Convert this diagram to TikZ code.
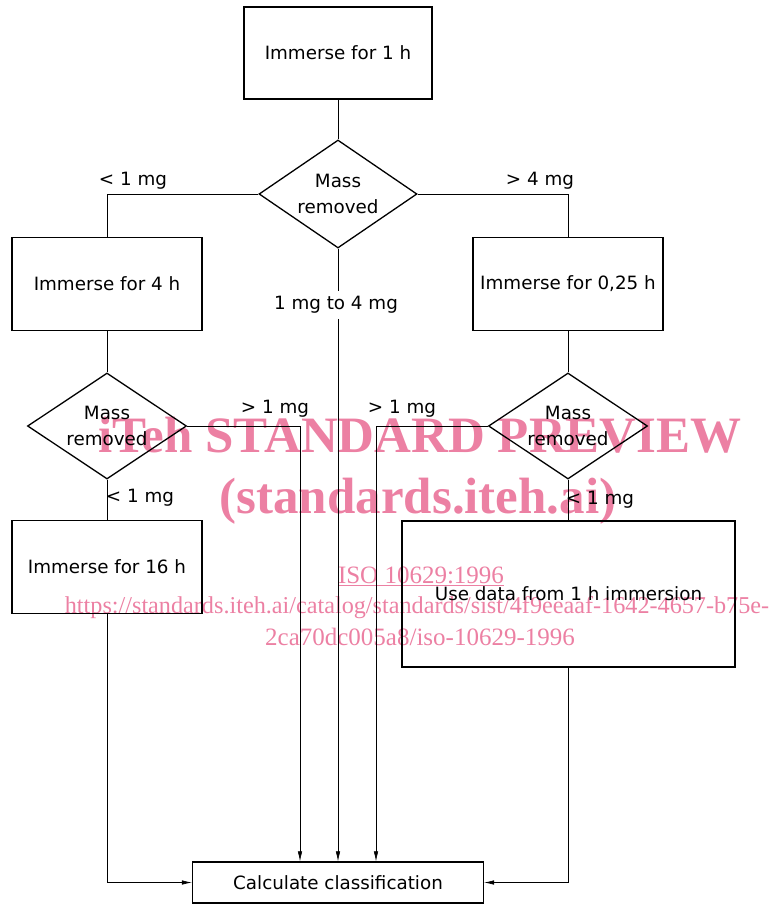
\documentclass[tikz,border=0pt]{standalone}
\usepackage{fontspec}
\setmainfont{DejaVu Sans}
\newfontfamily\wmfont{Liberation Serif}
\usetikzlibrary{arrows.meta,positioning,shapes.geometric}
\definecolor{wmpink}{RGB}{236,128,163}

\begin{document}
\begin{tikzpicture}[
  x=1pt, y=-1pt,
  font=\fontsize{18.3}{26}\selectfont,
  stepbox/.style={draw, line width=1.3pt, align=center, minimum width=190pt, minimum height=93pt, inner sep=2pt},
  decision/.style={draw, diamond, line width=1.3pt, align=center, aspect=1.45, minimum width=158pt, minimum height=108pt, inner sep=0pt},
  lbl/.style={inner sep=1pt},
  link/.style={line width=0.6pt},
  arrow/.style={link, -{Latex[length=10pt,width=4.5pt]}},
  wmtext/.style={text=wmpink, anchor=base, inner sep=0pt}
]
\useasboundingbox (0,0) rectangle (772,905);

% watermark, behind the chart
\node[wmtext, font=\wmfont\bfseries\fontsize{51}{51}\selectfont] (wm1) at (420,452) {iTeh STANDARD PREVIEW};
\node[wmtext, font=\wmfont\bfseries\fontsize{51}{51}\selectfont] (wm2) at (418,513) {(standards.iteh.ai)};
\node[wmtext, font=\wmfont\fontsize{25}{25}\selectfont] (wm3) at (421,583) {\underline{ISO 10629:1996}};
\node[wmtext, font=\wmfont\fontsize{24.2}{25}\selectfont] (wm4) at (417,613) {https://standards.iteh.ai/catalog/standards/sist/4f9eeaaf-1642-4657-b75e-};
\node[wmtext, font=\wmfont\fontsize{25}{25}\selectfont] (wm5) at (420,645) {2ca70dc005a8/iso-10629-1996};

% steps and decisions
\node[stepbox, minimum width=188pt, minimum height=92pt] (imm1) at (338,53) {Immerse for 1 h};
\node[decision] (mass1) at (338,194) {Mass\\removed};
\node[stepbox] (imm4) at (107,284) {Immerse for 4 h};
\node[stepbox] (imm025) at (568,284) {Immerse for 0,25 h};
\node[decision, minimum width=159pt, minimum height=106pt] (mass2) at (107,426) {Mass\\removed};
\node[decision, minimum width=159pt, minimum height=106pt] (mass3) at (568,426) {Mass\\removed};
\node[stepbox] (imm16) at (107,567) {Immerse for 16 h};
\node[stepbox, minimum width=333pt, minimum height=146pt] (usedata) at (568.5,594) {Use data from 1 h immersion};
\node[stepbox, minimum width=291pt, minimum height=41pt] (calc) at (338,882.5) {Calculate classification};

% branch labels
\node[lbl] (lt1) at (133,181) {< 1 mg};
\node[lbl] (gt4) at (540,181) {> 4 mg};
\node[lbl, inner sep=5pt] (range) at (336,305) {1 mg to 4 mg};
\node[lbl] (gt1a) at (275,409) {> 1 mg};
\node[lbl] (gt1b) at (402,409) {> 1 mg};
\node[lbl] (lt1a) at (140,498) {< 1 mg};
\node[lbl] (lt1b) at (600,500) {< 1 mg};

% connectors
\draw[link] (imm1) -- (mass1);
\draw[link] (mass1.west) -| (imm4.north);
\draw[link] (mass1.east) -| (imm025.north);
\draw[link] (mass1.south) -- (mass1.south |- range.north);
\draw[arrow] (calc.north |- range.south) -- (calc.north);
\draw[link] (imm4) -- (mass2);
\draw[link] (imm025) -- (mass3);
\draw[arrow] (mass2.east) -| ([xshift=-38pt]calc.north);
\draw[arrow] (mass3.west) -| ([xshift=38pt]calc.north);
\draw[link] (mass2) -- (imm16);
\draw[link] (mass3.south) -- (mass3.south |- usedata.north);
\draw[arrow] (imm16.south) |- (calc.west);
\draw[arrow] (usedata.south) |- (calc.east);
\end{tikzpicture}
\end{document}
